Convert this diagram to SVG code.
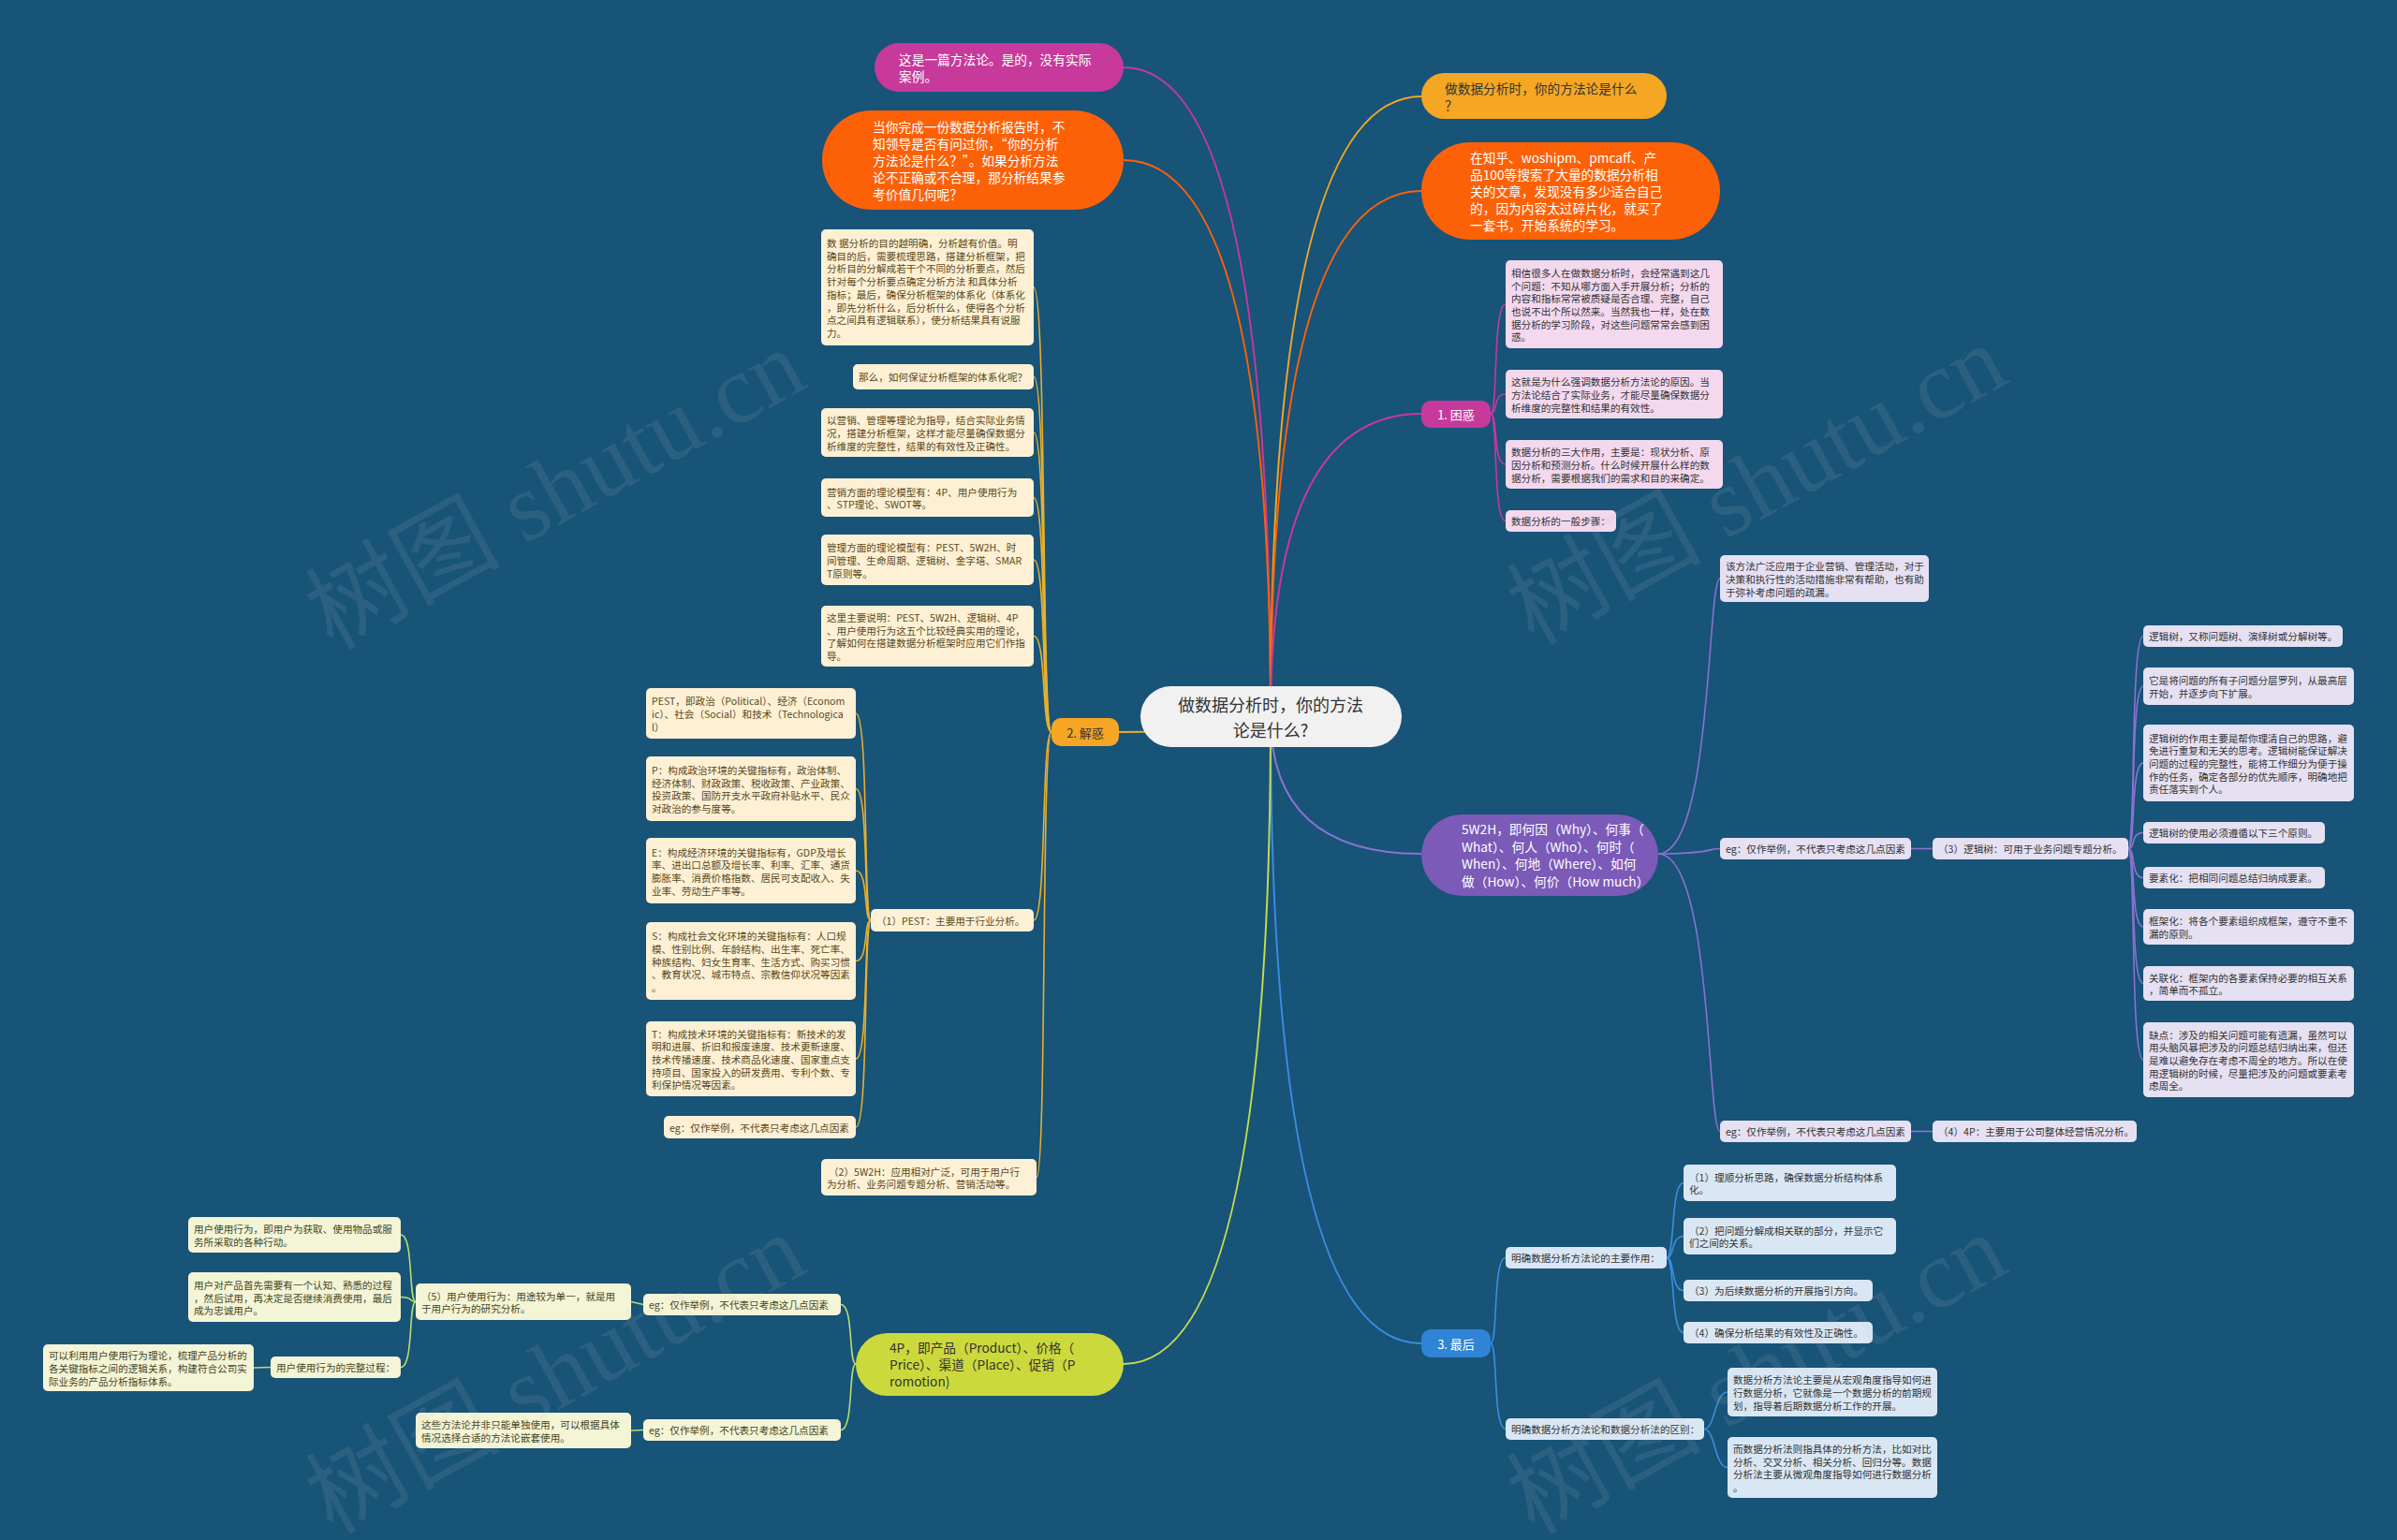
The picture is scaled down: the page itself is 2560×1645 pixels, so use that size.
<svg xmlns="http://www.w3.org/2000/svg" width="2560" height="1645" viewBox="0 0 2560 1645">
<style>
text{font-family:"Noto Sans CJK SC","Noto Sans",sans-serif;dominant-baseline:central}
.m{font-size:13.7px}
.s{font-size:10.6px}
.sm{font-size:13px}
.w{fill:#ffffff}
.dk{fill:#333333}
.br{fill:#5b4820}
.gr{fill:#45461c}
.c{fill:none;stroke-width:2}
.sc{fill:none;stroke-width:1.6}
.pk{stroke:#c7399b}
.og{stroke:#fd6107}
.yo{stroke:#f5a623}
.gd{stroke:#e6b030}
.pu{stroke:#8a72cf}
.bl{stroke:#3a8ee0}
.yg{stroke:#c3dc4e}
.lg{stroke:#b8dd6c}
.bpk{fill:#f3d8ee}
.bcr{fill:#fdf0d4}
.bpu{fill:#e5e0f2}
.bbl{fill:#d9e7f5}
.bgr{fill:#f4f4d6}
.wm{font-family:"Liberation Serif","Noto Sans CJK SC",serif;font-size:104px;fill:#c8c8c8;opacity:0.11;dominant-baseline:auto}
</style>
<rect x="0" y="0" width="2560" height="1645" fill="#185378"/>

<g id="connectors">
<path class="c pk" d="M1357 765 Q1357 72 1200 72"/>
<path class="c og" d="M1357 765 Q1357 171 1200 171"/>
<path class="c yo" d="M1357 765 Q1357 103 1518 103"/>
<path class="c og" d="M1357 765 Q1357 204 1518 204"/>
<path class="c pk" d="M1357 765 Q1357 442 1518 442"/>
<path class="c gd" d="M1357 765 C1300 782 1250 782 1195 782"/>
<path class="c pu" d="M1357 765 Q1357 912 1518 912"/>
<path class="c bl" d="M1357 765 Q1357 1435 1518 1435"/>
<path class="c yg" d="M1357 765 Q1357 1457 1200 1457"/>
<!-- 1. 困惑 -->
<path class="sc pk" d="M1592 442 C1600 442 1594 325 1608 325"/>
<path class="sc pk" d="M1592 442 C1600 442 1594 421 1608 421"/>
<path class="sc pk" d="M1592 442 C1600 442 1594 496 1608 496"/>
<path class="sc pk" d="M1592 442 C1600 442 1594 556.5 1608 556.5"/>
<!-- 2. 解惑 -->
<path class="sc gd" d="M1123 782 C1112 782 1118 307 1104 307"/>
<path class="sc gd" d="M1123 782 C1112 782 1118 402.5 1104 402.5"/>
<path class="sc gd" d="M1123 782 C1112 782 1118 462 1104 462"/>
<path class="sc gd" d="M1123 782 C1112 782 1118 531.5 1104 531.5"/>
<path class="sc gd" d="M1123 782 C1112 782 1118 598 1104 598"/>
<path class="sc gd" d="M1123 782 C1112 782 1118 679.5 1104 679.5"/>
<path class="sc gd" d="M1123 782 C1112 782 1118 983 1104 983"/>
<path class="sc gd" d="M1123 782 C1112 782 1118 1257.5 1107 1257.5"/>
<!-- PEST -->
<path class="sc gd" d="M930 983 C922 983 928 762 914 762"/>
<path class="sc gd" d="M930 983 C922 983 928 842.5 914 842.5"/>
<path class="sc gd" d="M930 983 C922 983 928 930 914 930"/>
<path class="sc gd" d="M930 983 C922 983 928 1026.5 914 1026.5"/>
<path class="sc gd" d="M930 983 C922 983 928 1131 914 1131"/>
<path class="sc gd" d="M930 983 C922 983 928 1204 914 1204"/>
<!-- 5W2H -->
<path class="sc pu" d="M1771 912 C1829 912 1823 618 1837 618"/>
<path class="sc pu" d="M1771 912 C1829 912 1823 906.5 1837 906.5"/>
<path class="sc pu" d="M1771 912 C1829 912 1823 1208.5 1837 1208.5"/>
<path class="sc pu" d="M2041 906.5 L2064 906.5"/>
<path class="sc pu" d="M2041 1208.5 L2064 1208.5"/>
<path class="sc pu" d="M2273 906.5 C2281 906.5 2275 679.5 2289 679.5"/>
<path class="sc pu" d="M2273 906.5 C2281 906.5 2275 733 2289 733"/>
<path class="sc pu" d="M2273 906.5 C2281 906.5 2275 815 2289 815"/>
<path class="sc pu" d="M2273 906.5 C2281 906.5 2275 889.5 2289 889.5"/>
<path class="sc pu" d="M2273 906.5 C2281 906.5 2275 937.5 2289 937.5"/>
<path class="sc pu" d="M2273 906.5 C2281 906.5 2275 990 2289 990"/>
<path class="sc pu" d="M2273 906.5 C2281 906.5 2275 1050.5 2289 1050.5"/>
<path class="sc pu" d="M2273 906.5 C2281 906.5 2275 1132 2289 1132"/>
<!-- 3. 最后 -->
<path class="sc bl" d="M1592 1435 C1600 1435 1594 1343.5 1608 1343.5"/>
<path class="sc bl" d="M1592 1435 C1600 1435 1594 1526.5 1608 1526.5"/>
<path class="sc bl" d="M1780 1343.5 C1789 1343.5 1784 1263.5 1798 1263.5"/>
<path class="sc bl" d="M1780 1343.5 C1789 1343.5 1784 1320.5 1798 1320.5"/>
<path class="sc bl" d="M1780 1343.5 C1789 1343.5 1784 1378.5 1798 1378.5"/>
<path class="sc bl" d="M1780 1343.5 C1789 1343.5 1784 1423.5 1798 1423.5"/>
<path class="sc bl" d="M1820 1526.5 C1832 1526.5 1831 1487 1845 1487"/>
<path class="sc bl" d="M1820 1526.5 C1832 1526.5 1831 1567.5 1845 1567.5"/>
<!-- 4P -->
<path class="sc lg" d="M914 1457 C906 1457 912 1393.5 898 1393.5"/>
<path class="sc lg" d="M914 1457 C906 1457 912 1527.5 898 1527.5"/>
<path class="sc lg" d="M687 1393.5 L674 1390.5"/>
<path class="sc lg" d="M444 1390.5 C436 1390.5 442 1319 428 1319"/>
<path class="sc lg" d="M444 1390.5 C436 1390.5 442 1385.5 428 1385.5"/>
<path class="sc lg" d="M444 1390.5 C436 1390.5 442 1460.5 428 1460.5"/>
<path class="sc lg" d="M289 1460.5 L271 1461"/>
<path class="sc lg" d="M687 1527.5 L674 1528"/>
</g>

<g id="center">
<rect x="1218" y="733" width="279" height="65" rx="32.5" fill="#f1f1f1"/>
<text x="1357" y="752" text-anchor="middle" style="font-size:18px" class="dk">做数据分析时，你的方法</text>
<text x="1357" y="779" text-anchor="middle" style="font-size:18px" class="dk">论是什么?</text>
</g>

<g id="n-pink-top">
<rect x="934" y="46" width="266" height="52" rx="26" fill="#c7399b"/>
<text class="m w"><tspan x="960" y="63">这是一篇方法论。是的，没有实际</tspan><tspan x="960" y="81">案例。</tspan></text>
</g>
<g id="n-orange-tl">
<rect x="878" y="118" width="322" height="106" rx="53" fill="#fd6107"/>
<text class="m w"><tspan x="932" y="135">当你完成一份数据分析报告时，不</tspan><tspan x="932" y="153">知领导是否有问过你，“你的分析</tspan><tspan x="932" y="171">方法论是什么？”。如果分析方法</tspan><tspan x="932" y="189">论不正确或不合理，那分析结果参</tspan><tspan x="932" y="207">考价值几何呢？</tspan></text>
</g>
<g id="n-yellow-tr">
<rect x="1518" y="78" width="262" height="49" rx="24.5" fill="#f5a623"/>
<text class="m dk"><tspan x="1543" y="94">做数据分析时，你的方法论是什么</tspan><tspan x="1543" y="112">？</tspan></text>
</g>
<g id="n-orange-tr">
<rect x="1518" y="152" width="319" height="104" rx="52" fill="#fd6107"/>
<text class="m w"><tspan x="1570" y="168">在知乎、woshipm、pmcaff、产</tspan><tspan x="1570" y="186">品100等搜索了大量的数据分析相</tspan><tspan x="1570" y="204">关的文章，发现没有多少适合自己</tspan><tspan x="1570" y="222">的，因为内容太过碎片化，就买了</tspan><tspan x="1570" y="240">一套书，开始系统的学习。</tspan></text>
</g>

<g id="n-kunhuo">
<rect x="1518" y="428" width="74" height="29" rx="10" fill="#c7399b"/>
<text x="1555" y="442.5" text-anchor="middle" class="sm w">1. 困惑</text>
</g>
<g id="kh-1">
<rect x="1608" y="278" width="232" height="94" rx="5" class="bpk"/>
<text class="s dk"><tspan x="1614" y="290.8">相信很多人在做数据分析时，会经常遇到这几</tspan><tspan x="1614" y="304.5">个问题：不知从哪方面入手开展分析；分析的</tspan><tspan x="1614" y="318.2">内容和指标常常被质疑是否合理、完整，自己</tspan><tspan x="1614" y="331.9">也说不出个所以然来。当然我也一样，处在数</tspan><tspan x="1614" y="345.6">据分析的学习阶段，对这些问题常常会感到困</tspan><tspan x="1614" y="359.3">惑。</tspan></text>
</g>
<g id="kh-2">
<rect x="1608" y="395" width="232" height="52" rx="5" class="bpk"/>
<text class="s dk"><tspan x="1614" y="407.3">这就是为什么强调数据分析方法论的原因。当</tspan><tspan x="1614" y="421">方法论结合了实际业务，才能尽量确保数据分</tspan><tspan x="1614" y="434.7">析维度的完整性和结果的有效性。</tspan></text>
</g>
<g id="kh-3">
<rect x="1608" y="470" width="232" height="52" rx="5" class="bpk"/>
<text class="s dk"><tspan x="1614" y="482.3">数据分析的三大作用，主要是：现状分析、原</tspan><tspan x="1614" y="496">因分析和预测分析。什么时候开展什么样的数</tspan><tspan x="1614" y="509.7">据分析，需要根据我们的需求和目的来确定。</tspan></text>
</g>
<g id="kh-4">
<rect x="1608" y="545" width="118" height="23" rx="5" class="bpk"/>
<text x="1614" y="556.5" class="s dk">数据分析的一般步骤：</text>
</g>

<g id="n-jiehuo">
<rect x="1123" y="767" width="72" height="30" rx="10" fill="#f5a623"/>
<text x="1159" y="782" text-anchor="middle" class="sm dk">2. 解惑</text>
</g>
<g id="jh-1">
<rect x="877" y="245" width="227" height="124" rx="5" class="bcr"/>
<text class="s br"><tspan x="883" y="259">数 据分析的目的越明确，分析越有价值。明</tspan><tspan x="883" y="272.7">确目的后，需要梳理思路，搭建分析框架，把</tspan><tspan x="883" y="286.4">分析目的分解成若干个不同的分析要点，然后</tspan><tspan x="883" y="300.1">针对每个分析要点确定分析方法 和具体分析</tspan><tspan x="883" y="313.8">指标；最后，确保分析框架的体系化（体系化</tspan><tspan x="883" y="327.5">，即先分析什么，后分析什么，使得各个分析</tspan><tspan x="883" y="341.2">点之间具有逻辑联系），使分析结果具有说服</tspan><tspan x="883" y="354.9">力。</tspan></text>
</g>
<g id="jh-2">
<rect x="911" y="389" width="193" height="27" rx="5" class="bcr"/>
<text x="917" y="402.5" class="s br">那么，如何保证分析框架的体系化呢？</text>
</g>
<g id="jh-3">
<rect x="877" y="436" width="227" height="52" rx="5" class="bcr"/>
<text class="s br"><tspan x="883" y="448.3">以营销、管理等理论为指导，结合实际业务情</tspan><tspan x="883" y="462">况，搭建分析框架，这样才能尽量确保数据分</tspan><tspan x="883" y="475.7">析维度的完整性，结果的有效性及正确性。</tspan></text>
</g>
<g id="jh-4">
<rect x="877" y="511" width="227" height="41" rx="5" class="bcr"/>
<text class="s br"><tspan x="883" y="524.6">营销方面的理论模型有：4P、用户使用行为</tspan><tspan x="883" y="538.4">、STP理论、SWOT等。</tspan></text>
</g>
<g id="jh-5">
<rect x="877" y="571" width="227" height="54" rx="5" class="bcr"/>
<text class="s br"><tspan x="883" y="584.3">管理方面的理论模型有：PEST、5W2H、时</tspan><tspan x="883" y="598">间管理、生命周期、逻辑树、金字塔、SMAR</tspan><tspan x="883" y="611.7">T原则等。</tspan></text>
</g>
<g id="jh-6">
<rect x="877" y="647" width="227" height="65" rx="5" class="bcr"/>
<text class="s br"><tspan x="883" y="659">这里主要说明：PEST、5W2H、逻辑树、4P</tspan><tspan x="883" y="672.7">、用户使用行为这五个比较经典实用的理论，</tspan><tspan x="883" y="686.3">了解如何在搭建数据分析框架时应用它们作指</tspan><tspan x="883" y="700">导。</tspan></text>
</g>
<g id="jh-pest">
<rect x="930" y="971" width="174" height="24" rx="5" class="bcr"/>
<text x="936" y="983" class="s br">（1）PEST：主要用于行业分析。</text>
</g>
<g id="pest-0">
<rect x="690" y="735" width="224" height="54" rx="5" class="bcr"/>
<text class="s br"><tspan x="696" y="748.3">PEST，即政治（Political）、经济（Econom</tspan><tspan x="696" y="762">ic）、社会（Social）和技术（Technologica</tspan><tspan x="696" y="775.7">l）</tspan></text>
</g>
<g id="pest-p">
<rect x="690" y="808" width="224" height="69" rx="5" class="bcr"/>
<text class="s br"><tspan x="696" y="822">P：构成政治环境的关键指标有，政治体制、</tspan><tspan x="696" y="835.7">经济体制、财政政策、税收政策、产业政策、</tspan><tspan x="696" y="849.3">投资政策、国防开支水平政府补贴水平、民众</tspan><tspan x="696" y="863">对政治的参与度等。</tspan></text>
</g>
<g id="pest-e">
<rect x="690" y="895" width="224" height="70" rx="5" class="bcr"/>
<text class="s br"><tspan x="696" y="909.5">E：构成经济环境的关键指标有，GDP及增长</tspan><tspan x="696" y="923.2">率、进出口总额及增长率、利率、汇率、通货</tspan><tspan x="696" y="936.8">膨胀率、消费价格指数、居民可支配收入、失</tspan><tspan x="696" y="950.5">业率、劳动生产率等。</tspan></text>
</g>
<g id="pest-s">
<rect x="690" y="985" width="224" height="83" rx="5" class="bcr"/>
<text class="s br"><tspan x="696" y="999.1">S：构成社会文化环境的关键指标有：人口规</tspan><tspan x="696" y="1012.8">模、性别比例、年龄结构、出生率、死亡率、</tspan><tspan x="696" y="1026.5">种族结构、妇女生育率、生活方式、购买习惯</tspan><tspan x="696" y="1040.2">、教育状况、城市特点、宗教信仰状况等因素</tspan><tspan x="696" y="1053.9">。</tspan></text>
</g>
<g id="pest-t">
<rect x="690" y="1091" width="224" height="80" rx="5" class="bcr"/>
<text class="s br"><tspan x="696" y="1103.6">T：构成技术环境的关键指标有：新技术的发</tspan><tspan x="696" y="1117.3">明和进展、折旧和报废速度、技术更新速度、</tspan><tspan x="696" y="1131">技术传播速度、技术商品化速度、国家重点支</tspan><tspan x="696" y="1144.7">持项目、国家投入的研发费用、专利个数、专</tspan><tspan x="696" y="1158.4">利保护情况等因素。</tspan></text>
</g>
<g id="pest-eg">
<rect x="709" y="1192" width="205" height="24" rx="5" class="bcr"/>
<text x="715" y="1204" class="s br">eg：仅作举例，不代表只考虑这几点因素</text>
</g>
<g id="jh-5w2h">
<rect x="877" y="1238" width="230" height="39" rx="5" class="bcr"/>
<text class="s br"><tspan x="885" y="1250.6">（2）5W2H：应用相对广泛，可用于用户行</tspan><tspan x="883" y="1264.4">为分析、业务问题专题分析、营销活动等。</tspan></text>
</g>

<g id="n-5w2h">
<rect x="1518" y="870" width="253" height="87" rx="43.5" fill="#7b5ab8"/>
<text class="m w"><tspan x="1561" y="885">5W2H，即何因（Why）、何事（</tspan><tspan x="1561" y="904">What）、何人（Who）、何时（</tspan><tspan x="1561" y="922">When）、何地（Where）、如何</tspan><tspan x="1561" y="941">做（How）、何价（How much）</tspan></text>
</g>
<g id="w-a">
<rect x="1837" y="593" width="223" height="50" rx="5" class="bpu"/>
<text class="s dk"><tspan x="1843" y="604.3">该方法广泛应用于企业营销、管理活动，对于</tspan><tspan x="1843" y="618">决策和执行性的活动措施非常有帮助，也有助</tspan><tspan x="1843" y="631.7">于弥补考虑问题的疏漏。</tspan></text>
</g>
<g id="w-eg3">
<rect x="1837" y="895" width="204" height="23" rx="5" class="bpu"/>
<text x="1843" y="906.5" class="s dk">eg：仅作举例，不代表只考虑这几点因素</text>
</g>
<g id="w-3">
<rect x="2064" y="895" width="209" height="23" rx="5" class="bpu"/>
<text x="2070" y="906.5" class="s dk">（3）逻辑树：可用于业务问题专题分析。</text>
</g>
<g id="lt-1">
<rect x="2289" y="668" width="213" height="23" rx="5" class="bpu"/>
<text x="2295" y="679.5" class="s dk">逻辑树，又称问题树、演绎树或分解树等。</text>
</g>
<g id="lt-2">
<rect x="2289" y="713" width="225" height="40" rx="5" class="bpu"/>
<text class="s dk"><tspan x="2295" y="726.2">它是将问题的所有子问题分层罗列，从最高层</tspan><tspan x="2295" y="739.9">开始，并逐步向下扩展。</tspan></text>
</g>
<g id="lt-3">
<rect x="2289" y="774" width="225" height="82" rx="5" class="bpu"/>
<text class="s dk"><tspan x="2295" y="787.6">逻辑树的作用主要是帮你理清自己的思路，避</tspan><tspan x="2295" y="801.3">免进行重复和无关的思考。逻辑树能保证解决</tspan><tspan x="2295" y="815">问题的过程的完整性，能将工作细分为便于操</tspan><tspan x="2295" y="828.7">作的任务，确定各部分的优先顺序，明确地把</tspan><tspan x="2295" y="842.4">责任落实到个人。</tspan></text>
</g>
<g id="lt-4">
<rect x="2289" y="878" width="194" height="23" rx="5" class="bpu"/>
<text x="2295" y="889.5" class="s dk">逻辑树的使用必须遵循以下三个原则。</text>
</g>
<g id="lt-5">
<rect x="2289" y="926" width="194" height="23" rx="5" class="bpu"/>
<text x="2295" y="937.5" class="s dk">要素化：把相同问题总结归纳成要素。</text>
</g>
<g id="lt-6">
<rect x="2289" y="971" width="225" height="38" rx="5" class="bpu"/>
<text class="s dk"><tspan x="2295" y="983.2">框架化：将各个要素组织成框架，遵守不重不</tspan><tspan x="2295" y="996.9">漏的原则。</tspan></text>
</g>
<g id="lt-7">
<rect x="2289" y="1032" width="225" height="37" rx="5" class="bpu"/>
<text class="s dk"><tspan x="2295" y="1043.7">关联化：框架内的各要素保持必要的相互关系</tspan><tspan x="2295" y="1057.4">，简单而不孤立。</tspan></text>
</g>
<g id="lt-8">
<rect x="2289" y="1092" width="225" height="80" rx="5" class="bpu"/>
<text class="s dk"><tspan x="2295" y="1104.6">缺点：涉及的相关问题可能有遗漏，虽然可以</tspan><tspan x="2295" y="1118.3">用头脑风暴把涉及的问题总结归纳出来，但还</tspan><tspan x="2295" y="1132">是难以避免存在考虑不周全的地方。所以在使</tspan><tspan x="2295" y="1145.7">用逻辑树的时候，尽量把涉及的问题或要素考</tspan><tspan x="2295" y="1159.4">虑周全。</tspan></text>
</g>
<g id="w-eg4">
<rect x="1837" y="1197" width="204" height="23" rx="5" class="bpu"/>
<text x="1843" y="1208.5" class="s dk">eg：仅作举例，不代表只考虑这几点因素</text>
</g>
<g id="w-4">
<rect x="2064" y="1197" width="218" height="23" rx="5" class="bpu"/>
<text x="2070" y="1208.5" class="s dk">（4）4P：主要用于公司整体经营情况分析。</text>
</g>

<g id="n-zuihou">
<rect x="1518" y="1420" width="74" height="30" rx="10" fill="#2f84d6"/>
<text x="1555" y="1435" text-anchor="middle" class="sm w">3. 最后</text>
</g>
<g id="zh-1">
<rect x="1608" y="1332" width="172" height="23" rx="5" class="bbl"/>
<text x="1614" y="1343.5" class="s dk">明确数据分析方法论的主要作用：</text>
</g>
<g id="zh-1a">
<rect x="1798" y="1244" width="227" height="39" rx="5" class="bbl"/>
<text class="s dk"><tspan x="1804" y="1256.6">（1）理顺分析思路，确保数据分析结构体系</tspan><tspan x="1804" y="1270.4">化。</tspan></text>
</g>
<g id="zh-1b">
<rect x="1798" y="1301" width="227" height="39" rx="5" class="bbl"/>
<text class="s dk"><tspan x="1804" y="1313.6">（2）把问题分解成相关联的部分，并显示它</tspan><tspan x="1804" y="1327.4">们之间的关系。</tspan></text>
</g>
<g id="zh-1c">
<rect x="1798" y="1367" width="202" height="23" rx="5" class="bbl"/>
<text x="1804" y="1378.5" class="s dk">（3）为后续数据分析的开展指引方向。</text>
</g>
<g id="zh-1d">
<rect x="1798" y="1412" width="202" height="23" rx="5" class="bbl"/>
<text x="1804" y="1423.5" class="s dk">（4）确保分析结果的有效性及正确性。</text>
</g>
<g id="zh-2">
<rect x="1608" y="1515" width="212" height="23" rx="5" class="bbl"/>
<text x="1614" y="1526.5" class="s dk">明确数据分析方法论和数据分析法的区别：</text>
</g>
<g id="zh-2a">
<rect x="1845" y="1461" width="224" height="52" rx="5" class="bbl"/>
<text class="s dk"><tspan x="1851" y="1473.3">数据分析方法论主要是从宏观角度指导如何进</tspan><tspan x="1851" y="1487">行数据分析，它就像是一个数据分析的前期规</tspan><tspan x="1851" y="1500.7">划，指导着后期数据分析工作的开展。</tspan></text>
</g>
<g id="zh-2b">
<rect x="1845" y="1535" width="224" height="65" rx="5" class="bbl"/>
<text class="s dk"><tspan x="1851" y="1547">而数据分析法则指具体的分析方法，比如对比</tspan><tspan x="1851" y="1560.7">分析、交叉分析、相关分析、回归分等。数据</tspan><tspan x="1851" y="1574.3">分析法主要从微观角度指导如何进行数据分析</tspan><tspan x="1851" y="1588">。</tspan></text>
</g>

<g id="n-4p">
<rect x="914" y="1424" width="286" height="67" rx="33.5" fill="#ccd93c"/>
<text class="m dk"><tspan x="950" y="1439">4P，即产品（Product）、价格（</tspan><tspan x="950" y="1457">Price）、渠道（Place）、促销（P</tspan><tspan x="950" y="1475">romotion)</tspan></text>
</g>
<g id="p-eg5">
<rect x="687" y="1382" width="211" height="23" rx="5" class="bgr"/>
<text x="693" y="1393.5" class="s gr">eg：仅作举例，不代表只考虑这几点因素</text>
</g>
<g id="p-5">
<rect x="444" y="1371" width="230" height="39" rx="5" class="bgr"/>
<text class="s gr"><tspan x="450" y="1383.6">（5）用户使用行为：用途较为单一，就是用</tspan><tspan x="450" y="1397.4">于用户行为的研究分析。</tspan></text>
</g>
<g id="p-5a">
<rect x="201" y="1300" width="227" height="38" rx="5" class="bgr"/>
<text class="s gr"><tspan x="207" y="1312.1">用户使用行为，即用户为获取、使用物品或服</tspan><tspan x="207" y="1325.9">务所采取的各种行动。</tspan></text>
</g>
<g id="p-5b">
<rect x="201" y="1359" width="227" height="53" rx="5" class="bgr"/>
<text class="s gr"><tspan x="207" y="1371.8">用户对产品首先需要有一个认知、熟悉的过程</tspan><tspan x="207" y="1385.5">，然后试用，再决定是否继续消费使用，最后</tspan><tspan x="207" y="1399.2">成为忠诚用户。</tspan></text>
</g>
<g id="p-5c">
<rect x="289" y="1449" width="139" height="23" rx="5" class="bgr"/>
<text x="295" y="1460.5" class="s gr">用户使用行为的完整过程：</text>
</g>
<g id="p-5c1">
<rect x="46" y="1436" width="225" height="50" rx="5" class="bgr"/>
<text class="s gr"><tspan x="52" y="1447.3">可以利用用户使用行为理论，梳理产品分析的</tspan><tspan x="52" y="1461">各关键指标之间的逻辑关系，构建符合公司实</tspan><tspan x="52" y="1474.7">际业务的产品分析指标体系。</tspan></text>
</g>
<g id="p-eg6">
<rect x="687" y="1516" width="211" height="23" rx="5" class="bgr"/>
<text x="693" y="1527.5" class="s gr">eg：仅作举例，不代表只考虑这几点因素</text>
</g>
<g id="p-6">
<rect x="444" y="1509" width="230" height="38" rx="5" class="bgr"/>
<text class="s gr"><tspan x="450" y="1521.1">这些方法论并非只能单独使用，可以根据具体</tspan><tspan x="450" y="1534.9">情况选择合适的方法论嵌套使用。</tspan></text>
</g>

<g id="watermark">
<text class="wm" transform="translate(355 695) rotate(-29)">树图 shutu.cn</text>
<text class="wm" transform="translate(1638 690) rotate(-29)">树图 shutu.cn</text>
<text class="wm" transform="translate(355 1640) rotate(-29)">树图 shutu.cn</text>
<text class="wm" transform="translate(1638 1640) rotate(-29)">树图 shutu.cn</text>
</g>
</svg>
